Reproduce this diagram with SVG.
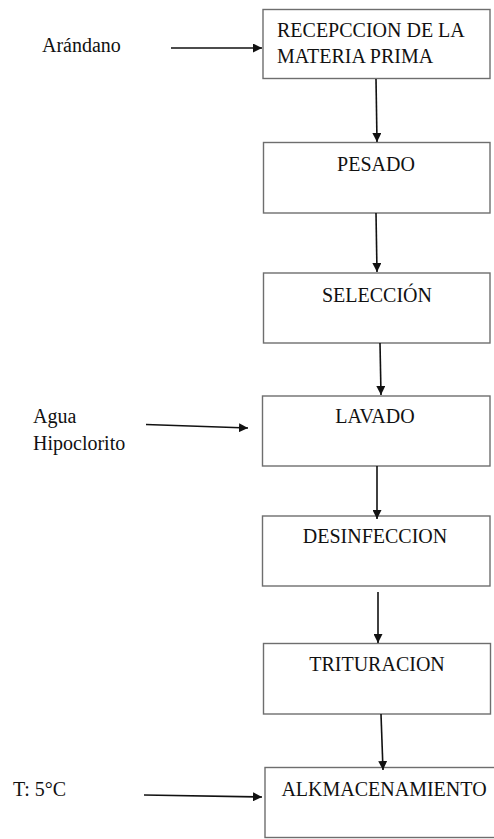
<svg xmlns="http://www.w3.org/2000/svg" width="494" height="839" viewBox="0 0 494 839">
<style>
.box{fill:#fff;stroke:#6e6e6e;stroke-width:1.4}
.t{font-family:"Liberation Serif","Times New Roman",serif;font-size:20px;fill:#111}
.c{text-anchor:middle}
.ln{stroke:#111;stroke-width:1.6;fill:none;marker-end:url(#ah)}
</style>
<defs>
<marker id="ah" markerWidth="9" markerHeight="9" refX="9" refY="4.5" orient="auto" markerUnits="userSpaceOnUse">
<path d="M0,0 L9,4.5 L0,9 Z" fill="#111"/>
</marker>
</defs>
<rect width="494" height="839" fill="#fff"/>
<g id="n1"><rect class="box" x="263" y="9.5" width="227" height="69"/>
<text class="t" x="277" y="37">RECEPCCION DE LA</text>
<text class="t" x="277" y="63">MATERIA PRIMA</text></g>
<g id="n2"><rect class="box" x="263.5" y="142.5" width="226.5" height="70.5"/>
<text class="t c" x="376" y="171">PESADO</text></g>
<g id="n3"><rect class="box" x="263.5" y="273" width="226.5" height="70"/>
<text class="t c" x="377" y="302">SELECCIÓN</text></g>
<g id="n4"><rect class="box" x="262.5" y="396" width="227.5" height="70"/>
<text class="t c" x="375" y="423">LAVADO</text></g>
<g id="n5"><rect class="box" x="262.5" y="516" width="227.5" height="70"/>
<text class="t c" x="375" y="543">DESINFECCION</text></g>
<g id="n6"><rect class="box" x="263.5" y="643.5" width="227" height="70.5"/>
<text class="t c" x="377" y="671">TRITURACION</text></g>
<g id="n7"><rect class="box" x="265" y="767.5" width="240" height="70"/>
<text class="t c" x="384" y="796">ALKMACENAMIENTO</text></g>
<g id="l1"><text class="t" x="42" y="52">Arándano</text></g>
<g id="l2"><text class="t" x="33" y="423">Agua</text><text class="t" x="33" y="450">Hipoclorito</text></g>
<g id="l3"><text class="t" x="13" y="796">T: 5°C</text></g>
<g id="connectors">
<line class="ln" x1="171" y1="48" x2="262" y2="48"/>
<line class="ln" x1="376" y1="79" x2="377" y2="142"/>
<line class="ln" x1="376" y1="213" x2="377" y2="272"/>
<line class="ln" x1="380" y1="343" x2="381" y2="395"/>
<line class="ln" x1="146" y1="424.5" x2="248" y2="428"/>
<line class="ln" x1="377" y1="466" x2="377" y2="519"/>
<line class="ln" x1="378" y1="592" x2="378" y2="643"/>
<line class="ln" x1="381" y1="714" x2="383" y2="770"/>
<line class="ln" x1="144" y1="795" x2="262" y2="797"/>
</g>
</svg>
